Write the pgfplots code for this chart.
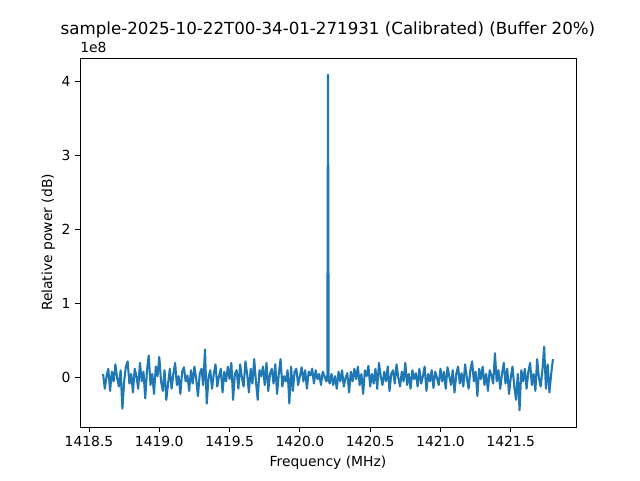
\documentclass[border=0pt]{standalone}
\usepackage{pgfplots}
\pgfplotsset{compat=1.18}
\usepackage{fontspec}
\setmainfont{DejaVu Sans}
\definecolor{mplblue}{HTML}{1F77B4}
\pgfplotstableread{
x y
1418.6000 0.05
1418.6125 -0.15
1418.6250 0.02
1418.6375 0.12
1418.6500 -0.18
1418.6625 0.08
1418.6750 -0.05
1418.6875 0.18
1418.7000 0.00
1418.7125 -0.12
1418.7250 0.10
1418.7375 -0.42
1418.7500 -0.05
1418.7625 0.15
1418.7750 0.22
1418.7875 -0.08
1418.8000 0.05
1418.8125 -0.20
1418.8250 0.12
1418.8375 0.02
1418.8500 -0.15
1418.8625 0.20
1418.8750 -0.05
1418.8875 0.08
1418.9000 -0.28
1418.9125 0.10
1418.9250 0.30
1418.9375 -0.10
1418.9500 0.05
1418.9625 -0.22
1418.9750 0.15
1418.9875 0.02
1419.0000 0.28
1419.0125 -0.05
1419.0250 -0.18
1419.0375 0.10
1419.0500 -0.30
1419.0625 -0.08
1419.0750 0.12
1419.0875 -0.15
1419.1000 0.05
1419.1125 0.20
1419.1250 -0.10
1419.1375 0.02
1419.1500 -0.22
1419.1625 0.08
1419.1750 0.14
1419.1875 -0.05
1419.2000 0.03
1419.2125 -0.18
1419.2250 0.10
1419.2375 -0.08
1419.2500 0.15
1419.2625 -0.02
1419.2750 -0.25
1419.2875 0.05
1419.3000 0.12
1419.3125 -0.10
1419.3250 0.38
1419.3375 -0.35
1419.3500 0.00
1419.3625 0.10
1419.3750 -0.15
1419.3875 0.05
1419.4000 0.18
1419.4125 -0.12
1419.4250 0.02
1419.4375 0.12
1419.4500 -0.20
1419.4625 0.08
1419.4750 -0.05
1419.4875 0.15
1419.5000 -0.02
1419.5125 0.20
1419.5250 -0.30
1419.5375 0.05
1419.5500 0.10
1419.5625 -0.15
1419.5750 0.18
1419.5875 0.00
1419.6000 -0.12
1419.6125 0.22
1419.6250 0.05
1419.6375 -0.20
1419.6500 0.12
1419.6625 -0.08
1419.6750 0.25
1419.6875 -0.05
1419.7000 -0.30
1419.7125 0.10
1419.7250 0.02
1419.7375 0.15
1419.7500 -0.10
1419.7625 0.20
1419.7750 -0.18
1419.7875 0.05
1419.8000 0.12
1419.8125 -0.08
1419.8250 0.18
1419.8375 -0.22
1419.8500 0.05
1419.8625 0.25
1419.8750 -0.12
1419.8875 0.02
1419.9000 -0.05
1419.9125 0.10
1419.9250 -0.35
1419.9375 0.15
1419.9500 -0.18
1419.9625 0.08
1419.9750 0.12
1419.9875 -0.10
1420.0000 0.02
1420.0125 0.14
1420.0250 -0.05
1420.0375 0.10
1420.0500 -0.15
1420.0625 0.08
1420.0750 0.03
1420.0875 0.12
1420.1000 -0.08
1420.1125 0.10
1420.1250 -0.02
1420.1375 0.05
1420.1500 -0.10
1420.1625 0.08
1420.1750 0.02
1420.1875 -0.05
1420.1950 0.03
1420.2000 4.09
1420.2050 -0.04
1420.2125 -0.08
1420.2250 0.05
1420.2375 -0.10
1420.2500 0.02
1420.2625 -0.15
1420.2750 0.08
1420.2875 -0.05
1420.3000 0.10
1420.3125 -0.12
1420.3250 0.00
1420.3375 0.06
1420.3500 -0.20
1420.3625 0.08
1420.3750 -0.05
1420.3875 0.12
1420.4000 -0.02
1420.4125 0.15
1420.4250 -0.10
1420.4375 0.05
1420.4500 -0.22
1420.4625 0.10
1420.4750 0.02
1420.4875 0.16
1420.5000 -0.12
1420.5125 0.05
1420.5250 -0.08
1420.5375 0.12
1420.5500 -0.15
1420.5625 0.20
1420.5750 0.02
1420.5875 -0.10
1420.6000 0.08
1420.6125 -0.05
1420.6250 0.15
1420.6375 -0.18
1420.6500 0.05
1420.6625 0.10
1420.6750 -0.08
1420.6875 0.18
1420.7000 0.00
1420.7125 -0.12
1420.7250 0.08
1420.7375 -0.05
1420.7500 0.20
1420.7625 -0.10
1420.7750 0.05
1420.7875 -0.15
1420.8000 0.10
1420.8125 -0.02
1420.8250 0.06
1420.8375 -0.12
1420.8500 0.12
1420.8625 -0.08
1420.8750 0.02
1420.8875 0.15
1420.9000 -0.18
1420.9125 0.05
1420.9250 -0.05
1420.9375 0.10
1420.9500 -0.14
1420.9625 0.08
1420.9750 0.00
1420.9875 -0.10
1421.0000 0.12
1421.0125 -0.05
1421.0250 0.08
1421.0375 -0.15
1421.0500 0.14
1421.0625 0.02
1421.0750 -0.10
1421.0875 0.10
1421.1000 -0.20
1421.1125 0.05
1421.1250 0.15
1421.1375 -0.08
1421.1500 0.06
1421.1625 -0.12
1421.1750 0.18
1421.1875 0.00
1421.2000 -0.15
1421.2125 0.10
1421.2250 0.22
1421.2375 -0.05
1421.2500 0.08
1421.2625 -0.25
1421.2750 0.12
1421.2875 -0.02
1421.3000 0.15
1421.3125 -0.10
1421.3250 0.05
1421.3375 -0.18
1421.3500 0.10
1421.3625 0.03
1421.3750 -0.08
1421.3875 0.33
1421.4000 -0.05
1421.4125 0.10
1421.4250 -0.15
1421.4375 0.05
1421.4500 0.20
1421.4625 -0.08
1421.4750 0.12
1421.4875 -0.22
1421.5000 0.00
1421.5125 0.15
1421.5250 -0.12
1421.5375 -0.30
1421.5500 0.05
1421.5625 -0.44
1421.5750 0.10
1421.5875 -0.05
1421.6000 0.12
1421.6125 -0.15
1421.6250 0.08
1421.6375 0.20
1421.6500 -0.10
1421.6625 0.05
1421.6750 -0.18
1421.6875 0.25
1421.7000 0.00
1421.7125 -0.12
1421.7250 0.10
1421.7375 0.42
1421.7500 -0.15
1421.7625 0.18
1421.7750 -0.20
1421.7875 0.05
1421.8000 0.25
}\spectrum
\begin{document}
\begin{tikzpicture}
\useasboundingbox (-60pt,-39.75pt) rectangle (420pt,320.25pt);
\begin{axis}[
  name=ax,
  at={(0,0)}, anchor=south west,
  scale only axis, width=372pt, height=276.75pt,
  xmin=1418.436, xmax=1421.964,
  ymin=-0.6665, ymax=4.3165,
  xtick={1418.5,1419,1419.5,1420,1420.5,1421,1421.5},
  ytick={0,1,2,3,4},
  tick align=outside, major tick length=3.65pt,
  tick style={black, line width=0.6pt},
  xtick pos=bottom, ytick pos=left,
  axis line style={line width=0.6pt},
  /pgf/number format/assume math mode=true,
  xticklabel style={/pgf/number format/.cd, fixed, fixed zerofill, precision=1, 1000 sep={}},
  yticklabel style={/pgf/number format/.cd, fixed, precision=0},
  ticklabel style={font=\fontsize{10.42}{12.5}\selectfont},
  label style={font=\fontsize{10.42}{12.5}\selectfont},
  xlabel={Frequency (MHz)},
  ylabel={Relative power (dB)},
  ylabel style={yshift=-2pt},
  title={sample-2025-10-22T00-34-01-271931 (Calibrated) (Buffer 20\%)},
  title style={font=\fontsize{12.5}{15}\selectfont, yshift=5.75pt},
  clip=true,
]
\addplot[mplblue, line width=1.56pt, line join=round] table[x=x, y=y] {\spectrum};
\end{axis}
\node[anchor=south west, inner sep=0pt, font=\fontsize{10.42}{12.5}\selectfont] at ([yshift=4pt]ax.north west) {1e8};
\end{tikzpicture}
\end{document}
